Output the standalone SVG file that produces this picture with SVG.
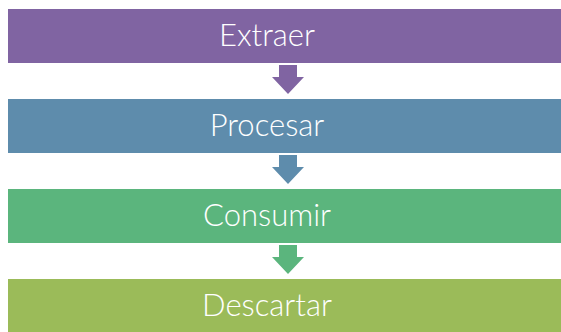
<svg xmlns="http://www.w3.org/2000/svg" width="561" height="332" viewBox="0 0 561 332">
<style>
.lbl{font-family:Lato,"Open Sans","Liberation Sans",sans-serif;font-weight:300;font-size:31px;fill:#ffffff;text-anchor:middle}
</style>
<rect width="561" height="332" fill="#ffffff"/>
<g id="connectors">
<path d="M279 65H297V77H304L288 94L272 77H279Z" fill="#8064A2"/>
<path d="M279 155H297V167H304L288 184L272 167H279Z" fill="#5E8CAC"/>
<path d="M279 245H297V257H304L288 274L272 257H279Z" fill="#5BB57D"/>
</g>
<g id="extraer"><rect x="8" y="9" width="553" height="54" fill="#8064A2"/><text class="lbl" x="267" y="46">Extraer</text></g>
<g id="procesar"><rect x="8" y="99" width="553" height="54" fill="#5E8CAC"/><text class="lbl" x="267" y="136">Procesar</text></g>
<g id="consumir"><rect x="8" y="189" width="553" height="54" fill="#5BB57D"/><text class="lbl" x="267" y="226">Consumir</text></g>
<g id="descartar"><rect x="8" y="279" width="553" height="54" fill="#9BBB59"/><text class="lbl" x="267" y="316">Descartar</text></g>
</svg>
